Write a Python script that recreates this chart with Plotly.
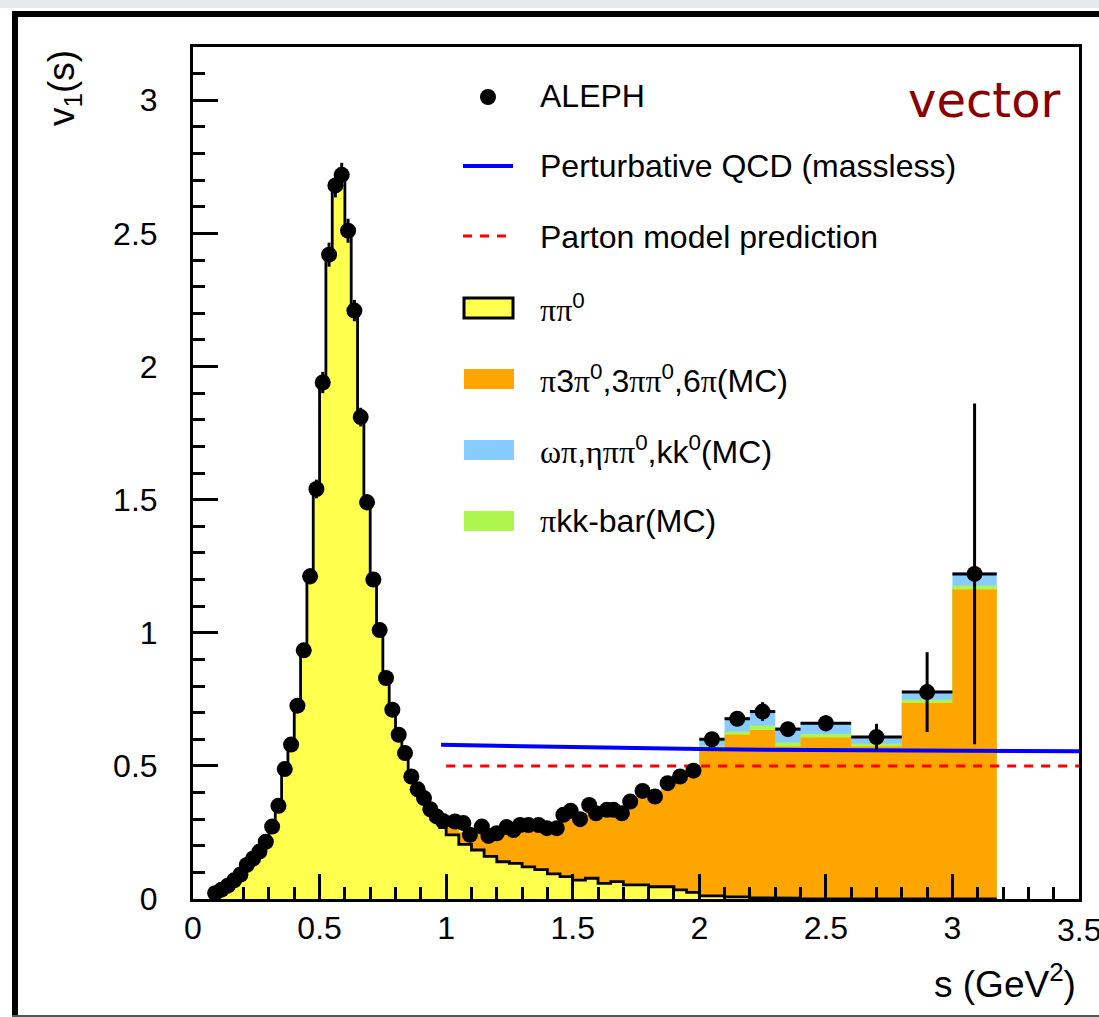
import plotly.graph_objects as go

# ---------------- data ----------------
# MC histogram binning (GeV^2)
mc_edges_low = [0.075, 0.1, 0.125, 0.15, 0.175, 0.2, 0.225, 0.25, 0.275, 0.3, 0.325, 0.35, 0.375,
                0.4, 0.425, 0.45, 0.475, 0.5, 0.525, 0.55, 0.575, 0.6, 0.625, 0.65, 0.675, 0.7,
                0.725, 0.75, 0.775, 0.8, 0.825, 0.85, 0.875, 0.9, 0.925, 0.95, 0.975]
mc_edges_mid = [1.0, 1.05, 1.1, 1.15, 1.2, 1.25, 1.3, 1.35, 1.4, 1.45, 1.5, 1.55, 1.6, 1.65,
                1.7, 1.75, 1.8, 1.85, 1.9, 1.95]
mc_edges_high = [2.0, 2.1, 2.2, 2.3, 2.4, 2.6, 2.8, 3.0, 3.175]
mc_edges = mc_edges_low + mc_edges_mid + mc_edges_high

# pi pi0 (yellow)
pipi0 = [0.022, 0.035, 0.050, 0.070, 0.092, 0.128, 0.152, 0.178, 0.215, 0.272, 0.350, 0.488,
         0.580, 0.726, 0.934, 1.212, 1.540, 1.940, 2.420, 2.680, 2.720, 2.510, 2.210, 1.810,
         1.490, 1.200, 1.010, 0.830, 0.711, 0.617, 0.548, 0.460, 0.410, 0.370, 0.325, 0.295, 0.268,
         0.241, 0.205, 0.184, 0.160, 0.140, 0.134, 0.121, 0.110, 0.094, 0.084, 0.071, 0.078,
         0.059, 0.065, 0.053, 0.053, 0.046, 0.046, 0.034, 0.025,
         0.012, 0.008, 0.005, 0.003, 0.001, 0.0, 0.0, 0.0]
# pi 3pi0, 3pi pi0, 6pi (orange)
multipi = [0.0] * 34 + [0.005, 0.010, 0.020] + \
          [0.029, 0.045, 0.061, 0.075, 0.110, 0.126, 0.147, 0.152, 0.168, 0.226, 0.229, 0.247,
           0.261, 0.255, 0.297, 0.332, 0.334, 0.374, 0.411, 0.440] + \
          [0.555, 0.609, 0.630, 0.570, 0.606, 0.573, 0.736, 1.162]
# pi K Kbar (green)
pikk = [0.0] * 37 + [0.0] * 16 + [0.005, 0.005, 0.005, 0.005] + \
       [0.009, 0.012, 0.017, 0.015, 0.013, 0.010, 0.012, 0.015]
# omega pi, eta pi pi0, K K0 (light blue)
omegapi = [0.0] * 37 + [0.0] * 17 + [0.006, 0.006, 0.006] + \
          [0.028, 0.054, 0.056, 0.056, 0.043, 0.027, 0.034, 0.050]

# ALEPH data
aleph_s = [0.0875, 0.1125, 0.1375, 0.1625, 0.1875, 0.2125, 0.2375, 0.2625, 0.2875, 0.3125,
           0.3375, 0.3625, 0.3875, 0.4125, 0.4375, 0.4625, 0.4875, 0.5125, 0.5375, 0.5625,
           0.5875, 0.6125, 0.6375, 0.6625, 0.6875, 0.7125, 0.7375, 0.7625, 0.7875, 0.8125,
           0.8375, 0.8625, 0.8875, 0.9125, 0.9375, 0.9625, 0.9875,
           1.035, 1.068, 1.094, 1.141, 1.167, 1.200, 1.239, 1.266, 1.292, 1.325, 1.365, 1.398,
           1.437, 1.463, 1.492, 1.529, 1.565, 1.592, 1.635, 1.661, 1.694, 1.727, 1.776, 1.825,
           1.875, 1.924, 1.977,
           2.05, 2.15, 2.25, 2.35, 2.5, 2.7, 2.9, 3.0875]
aleph_v = [0.022, 0.035, 0.050, 0.070, 0.092, 0.128, 0.152, 0.178, 0.215, 0.272, 0.350, 0.488,
           0.580, 0.726, 0.934, 1.212, 1.540, 1.940, 2.420, 2.680, 2.720, 2.510, 2.210, 1.810,
           1.490, 1.200, 1.010, 0.830, 0.711, 0.617, 0.548, 0.460, 0.412, 0.379, 0.337, 0.310, 0.293,
           0.291, 0.285, 0.241, 0.272, 0.237, 0.247, 0.270, 0.259, 0.278, 0.278, 0.278, 0.266,
           0.266, 0.316, 0.331, 0.300, 0.353, 0.322, 0.335, 0.335, 0.322, 0.366, 0.406, 0.385,
           0.435, 0.460, 0.482,
           0.600, 0.677, 0.704, 0.638, 0.660, 0.608, 0.777, 1.221]
aleph_err = [0.005, 0.005, 0.005, 0.006, 0.006, 0.007, 0.008, 0.008, 0.009, 0.010, 0.012, 0.014,
             0.016, 0.020, 0.025, 0.030, 0.035, 0.040, 0.045, 0.045, 0.045, 0.045, 0.040, 0.035,
             0.030, 0.025, 0.020, 0.018, 0.016, 0.014, 0.013, 0.012, 0.011, 0.010, 0.010, 0.010, 0.010,
             0.010, 0.010, 0.010, 0.010, 0.010, 0.010, 0.010, 0.010, 0.010, 0.010, 0.010, 0.010,
             0.010, 0.010, 0.010, 0.010, 0.012, 0.012, 0.012, 0.012, 0.012, 0.014, 0.014, 0.014,
             0.016, 0.016, 0.016,
             0.010, 0.015, 0.035, 0.020, 0.030, 0.050, 0.150, 0.640]
aleph_xerr = [0.0] * 64 + [0.05, 0.05, 0.05, 0.05, 0.1, 0.1, 0.1, 0.0875]

# Perturbative QCD (massless) and parton model
qcd_s = [0.98, 1.25, 1.5, 1.75, 2.0, 2.25, 2.5, 2.75, 3.0, 3.25, 3.5]
qcd_v = [0.579, 0.574, 0.570, 0.566, 0.563, 0.561, 0.559, 0.558, 0.557, 0.556, 0.555]
parton_s = [1.0, 3.5]
parton_v = [0.5, 0.5]

# axis ticks (the last x label sits on the figure edge and is drawn as a clipped annotation)
x_ticks = [0, 0.5, 1, 1.5, 2, 2.5, 3, 3.5]
x_ticklabels = ["0", "0.5", "1", "1.5", "2", "2.5", "3", ""]
x_edge_label = "3.5"
y_ticks = [0, 0.5, 1, 1.5, 2, 2.5, 3]
y_ticklabels = ["0", "0.5", "1", "1.5", "2", "2.5", "3"]

# ---------------- styling ----------------
YELLOW = "#ffff4d"
ORANGE = "#ffa500"
LBLUE = "#88ccff"
LGREEN = "#aef550"
FONT = "Liberation Sans"
SERIF = "Liberation Serif"

W, H = 1099, 1017
ML, MR, MT, MB = 193, 20, 47, 118
PW, PH = W - ML - MR, H - MT - MB


def px2x(px):
    return (px - ML) / PW


def py2y(py):
    return (H - MB - py) / PH


def step(edges, vals):
    xs, ys = [edges[0]], [0.0]
    for i, v in enumerate(vals):
        xs += [edges[i], edges[i + 1]]
        ys += [v, v]
    xs.append(edges[-1])
    ys.append(0.0)
    return xs, ys


cum_orange = [a + b for a, b in zip(pipi0, multipi)]
cum_green = [a + b for a, b in zip(cum_orange, pikk)]
cum_blue = [a + b for a, b in zip(cum_green, omegapi)]

fig = go.Figure()

for vals, col in [(cum_blue, LBLUE), (cum_green, LGREEN), (cum_orange, ORANGE)]:
    xs, ys = step(mc_edges, vals)
    fig.add_trace(go.Scatter(x=xs, y=ys, mode="lines", fill="tozeroy", fillcolor=col,
                             line=dict(width=0, color=col), showlegend=False, hoverinfo="skip"))

xs, ys = step(mc_edges, pipi0)
fig.add_trace(go.Scatter(x=xs, y=ys, mode="lines", fill="tozeroy", fillcolor=YELLOW,
                         line=dict(width=2.8, color="black"), showlegend=False, hoverinfo="skip"))

fig.add_trace(go.Scatter(x=qcd_s, y=qcd_v, mode="lines", line=dict(color="#0000ff", width=4),
                         showlegend=False))
fig.add_trace(go.Scatter(x=parton_s, y=parton_v, mode="lines",
                         line=dict(color="#ff0000", width=3, dash="9px,8px"), showlegend=False))

fig.add_trace(go.Scatter(
    x=aleph_s, y=aleph_v, mode="markers",
    marker=dict(size=16, color="black"),
    error_y=dict(type="data", array=aleph_err, color="black", thickness=3, width=0),
    error_x=dict(type="data", array=aleph_xerr, color="black", thickness=3, width=0),
    showlegend=False))

axis_common = dict(
    showgrid=False, zeroline=False, showline=True, linewidth=3, linecolor="black",
    mirror=True, ticks="inside", ticklen=25, tickwidth=3, tickcolor="black",
    tickfont=dict(family=FONT, size=32, color="black"),
    automargin=False,
    minor=dict(ticks="inside", ticklen=12, tickwidth=3, tickcolor="black", dtick=0.1,
               showgrid=False),
)
fig.update_xaxes(range=[0, 3.5], tickvals=x_ticks, ticktext=x_ticklabels,
                 ticklabelstandoff=-1, **axis_common)
fig.update_yaxes(range=[0, 3.2], tickvals=y_ticks, ticktext=y_ticklabels,
                 ticklabelstandoff=26, **axis_common)

shapes = []
annotations = []

# outer image frame
shapes.append(dict(type="rect", xref="paper", yref="paper", x0=px2x(0), x1=px2x(W),
                   y0=py2y(0), y1=py2y(8), fillcolor="#e6e9ee", line=dict(width=0), layer="above"))
shapes.append(dict(type="rect", xref="paper", yref="paper", x0=px2x(12), x1=px2x(W),
                   y0=py2y(11), y1=py2y(17), fillcolor="black", line=dict(width=0)))
shapes.append(dict(type="rect", xref="paper", yref="paper", x0=px2x(12), x1=px2x(18),
                   y0=py2y(11), y1=py2y(H), fillcolor="black", line=dict(width=0)))
shapes.append(dict(type="line", xref="paper", yref="paper", x0=px2x(12), x1=px2x(W),
                   y0=py2y(1016), y1=py2y(1016), line=dict(color="#555555", width=2)))

# legend symbols
shapes.append(dict(type="circle", xref="paper", yref="paper", x0=px2x(480), x1=px2x(496),
                   y0=py2y(105), y1=py2y(89), fillcolor="black", line=dict(width=0)))
shapes.append(dict(type="line", xref="paper", yref="paper", x0=px2x(463), x1=px2x(513),
                   y0=py2y(166), y1=py2y(166), line=dict(color="#0000ff", width=4)))
shapes.append(dict(type="line", xref="paper", yref="paper", x0=px2x(463), x1=px2x(510),
                   y0=py2y(236), y1=py2y(236), line=dict(color="#ff0000", width=3, dash="9px,8px")))
shapes.append(dict(type="rect", xref="paper", yref="paper", x0=px2x(464), x1=px2x(513),
                   y0=py2y(318), y1=py2y(298), fillcolor=YELLOW, line=dict(color="black", width=3)))
for yc, col in [(379, ORANGE), (450, LBLUE), (521, LGREEN)]:
    shapes.append(dict(type="rect", xref="paper", yref="paper", x0=px2x(464), x1=px2x(514),
                       y0=py2y(yc + 10), y1=py2y(yc - 10), fillcolor=col, line=dict(width=0)))

pi = f'<span style="font-family:{SERIF}">π</span>'
om = f'<span style="font-family:{SERIF}">ω</span>'
eta = f'<span style="font-family:{SERIF}">η</span>'
legend_rows = [
    (96, "ALEPH"),
    (166, "Perturbative QCD (massless)"),
    (237, "Parton model prediction"),
    (308, f"{pi}{pi}<sup>0</sup>"),
    (379, f"{pi}3{pi}<sup>0</sup>,3{pi}{pi}<sup>0</sup>,6{pi}(MC)"),
    (450, f"{om}{pi},{eta}{pi}{pi}<sup>0</sup>,kk<sup>0</sup>(MC)"),
    (521, f"{pi}kk-bar(MC)"),
]
for yc, txt in legend_rows:
    annotations.append(dict(xref="paper", yref="paper", x=px2x(538), y=py2y(yc), text=txt,
                            showarrow=False, xanchor="left", yanchor="middle",
                            font=dict(family=FONT, size=32, color="black")))

# last x tick label, partially off the figure edge as in the reference
annotations.append(dict(xref="x", yref="paper", x=x_ticks[-1], y=py2y(930), text=x_edge_label,
                        showarrow=False, xanchor="center", yanchor="middle",
                        font=dict(family=FONT, size=32, color="black")))

annotations.append(dict(xref="paper", yref="paper", x=px2x(1063), y=py2y(100), text="vector",
                        showarrow=False, xanchor="right", yanchor="middle",
                        font=dict(family="DejaVu Sans", size=48, color="#8b0000")))
annotations.append(dict(xref="paper", yref="paper", x=px2x(1078), y=py2y(982),
                        text="s (GeV<sup>2</sup>)", showarrow=False, xanchor="right",
                        yanchor="middle", font=dict(family=FONT, size=37, color="black")))
annotations.append(dict(xref="paper", yref="paper", x=px2x(64), y=py2y(48),
                        text="v<sub>1</sub>(s)", showarrow=False, textangle=-90,
                        xanchor="center", yanchor="top",
                        font=dict(family=FONT, size=37, color="black")))

fig.update_layout(
    width=W, height=H,
    margin=dict(l=ML, r=MR, t=MT, b=MB, pad=0),
    paper_bgcolor="white", plot_bgcolor="white",
    showlegend=False,
    shapes=shapes, annotations=annotations,
)

fig.write_html("out.html")
